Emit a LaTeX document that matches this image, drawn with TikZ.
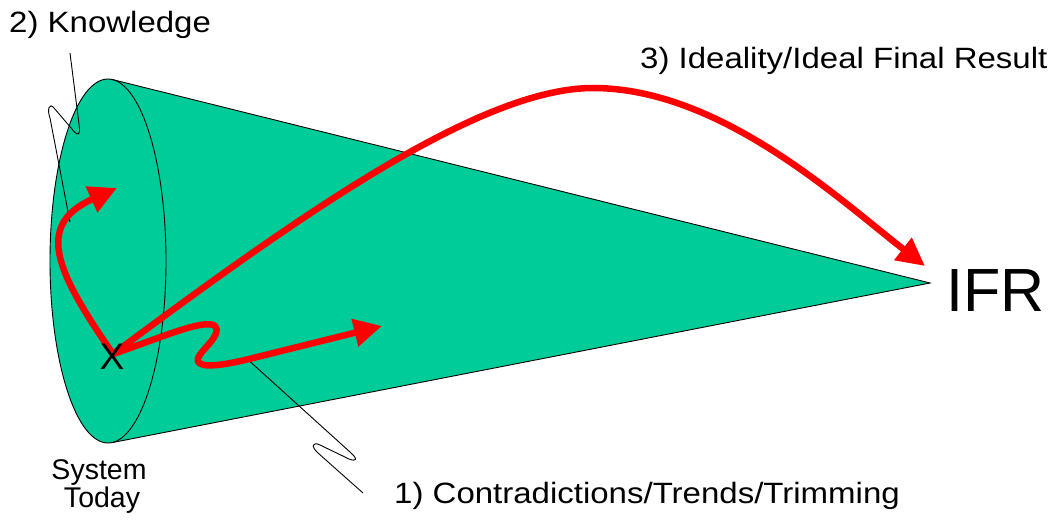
\documentclass[tikz,border=0pt]{standalone}
\usepackage{graphicx}
\usepackage{fontspec}
\setmainfont{Liberation Sans}
\usetikzlibrary{arrows.meta}
\definecolor{conegreen}{HTML}{00CC99}
\newcommand{\lbl}[1]{\scalebox{1}[0.89]{#1}}
\begin{document}
\begin{tikzpicture}[x=1pt,y=-1pt,
  label/.style={inner sep=0pt,anchor=base west,font=\fontsize{33}{36}\selectfont},
  small/.style={inner sep=0pt,anchor=base,font=\fontsize{28.5}{32}\selectfont},
  redarrow/.style={draw=red,line width=6.5pt,line join=round,
    -{Triangle[length=28pt,width=27pt]}},
  leader/.style={draw=black,line width=0.9pt,line join=round},
  coneline/.style={draw=black,line width=0.9pt}]
\useasboundingbox (0,0) rectangle (1050,520);
% cone
\coordinate (apex) at (930,283);
\coordinate (ctop) at (112.6,79.6);
\coordinate (cbot) at (111.6,442.7);
\coordinate (cc) at (108,261);
\fill[conegreen] (ctop) -- (apex) -- (cbot) -- cycle;
\fill[conegreen] (cc) ellipse [x radius=58, y radius=182];
\draw[coneline] (ctop) -- (apex) -- (cbot);
\draw[coneline] (cc) ellipse [x radius=58, y radius=182];
% labels
\node[label] (know) at (9,32) {\lbl{2) Knowledge}};
\node[label] (ideal) at (640,68) {\lbl{3) Ideality/Ideal Final Result}};
\node[label] (contr) at (394,503) {\lbl{1) Contradictions/Trends/Trimming}};
\node[small] (sys) at (99,479) {System};
\node[small] (today) at (102,507) {Today};
\node[inner sep=0pt,anchor=base west,font=\fontsize{61}{64}\selectfont] (ifr) at (946,311) {IFR};
% leader lines
\coordinate (k0) at (70,53);
\coordinate (k1) at (70,222);
\draw[leader] (k0) -- (79,124) .. controls (81,137) and (77,136) .. (72,129)
  -- (54,108) .. controls (49,102) and (47,110) .. (50,118) -- (k1);
\coordinate (c0) at (245,357);
\coordinate (c1) at (363,493);
\draw[leader] (c0) -- (350,452) .. controls (358,459) and (357,462) .. (349,459)
  -- (320,445) .. controls (312,441) and (311,447) .. (318,453) -- (c1);
% red arrows
\coordinate (xp) at (113,354);
\coordinate (tipK) at (117,188);
\coordinate (peak) at (593,88);
\coordinate (tipI) at (925,266);
\coordinate (tipT) at (382,326);
\draw[redarrow] (xp) .. controls (55,270) and (35,225) .. (tipK);
\draw[redarrow] (xp) .. controls (300,215) and (480,88) .. (peak)
  .. controls (720,88) and (840,200) .. (tipI);
\draw[redarrow] (xp) .. controls (160,338) and (205,318) .. (215,326)
  .. controls (223,334) and (201,350) .. (198,358)
  .. controls (195,368) and (215,367) .. (245,360) -- (tipT);
% X mark
\node[inner sep=0pt,anchor=base,font=\fontsize{37}{40}\selectfont] (xmark) at (112,369) {X};
\end{tikzpicture}
\end{document}
